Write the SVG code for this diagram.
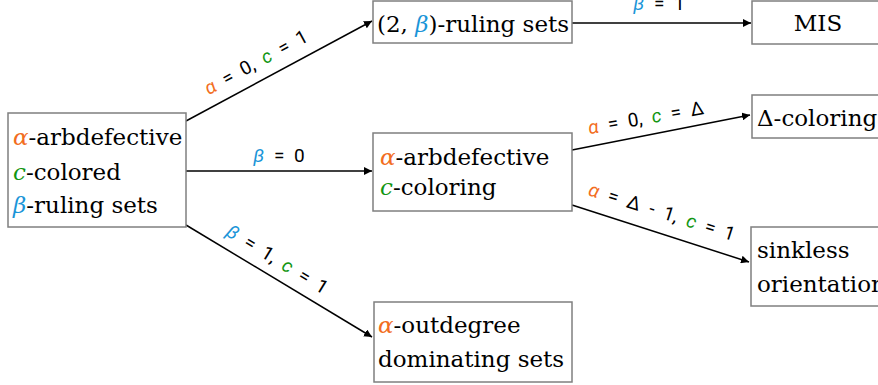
<svg xmlns="http://www.w3.org/2000/svg" width="878" height="385" viewBox="0 0 878 385">
<style>
.box{fill:#fff;stroke:#7f7f7f;stroke-width:1.5}
.nt{font-family:"DejaVu Serif",serif;font-size:23px;fill:#000}
.sym{font-style:italic}
.lb{font-family:Roboto,"DejaVu Sans",sans-serif;font-size:19px;fill:#000;word-spacing:5px}
.ls{font-style:italic}
.a{fill:#f26d21}
.c{fill:#129612}
.b{fill:#1b95d8}
.edge{stroke:#000;stroke-width:1.5;fill:none}
</style>
<defs>
<marker id="arr" viewBox="0 0 10 10" refX="10" refY="5" markerWidth="8" markerHeight="8" markerUnits="userSpaceOnUse" orient="auto"><path d="M0,0 L10,5 L0,10 Z" fill="#000"/></marker>
</defs>
<g id="connectors">
<line class="edge" marker-end="url(#arr)" x1="186" y1="121" x2="372" y2="21"/>
<line class="edge" marker-end="url(#arr)" x1="186" y1="171" x2="372" y2="171"/>
<line class="edge" marker-end="url(#arr)" x1="186" y1="225" x2="372" y2="337"/>
<line class="edge" marker-end="url(#arr)" x1="572" y1="23" x2="751" y2="23"/>
<line class="edge" marker-end="url(#arr)" x1="572" y1="150" x2="750" y2="115"/>
<line class="edge" marker-end="url(#arr)" x1="572" y1="205" x2="749" y2="262"/>
<text class="lb" transform="translate(259,68) rotate(-28.5)" text-anchor="middle"><tspan class="ls a">α</tspan> = 0, <tspan class="ls c">c</tspan> = 1</text>
<text class="lb" x="279" y="162" text-anchor="middle"><tspan class="ls b">β</tspan> = 0</text>
<text class="lb" transform="translate(274,265) rotate(31.3)" text-anchor="middle"><tspan class="ls b">β</tspan> = 1, <tspan class="ls c">c</tspan> = 1</text>
<text class="lb" x="659" y="10" text-anchor="middle"><tspan class="ls b">β</tspan> = 1</text>
<text class="lb" transform="translate(647,124) rotate(-10)" text-anchor="middle"><tspan class="ls a">α</tspan> = 0, <tspan class="ls c">c</tspan> = Δ</text>
<text class="lb" transform="translate(660,218) rotate(17.6)" text-anchor="middle"><tspan class="ls a">α</tspan> = Δ - 1, <tspan class="ls c">c</tspan> = 1</text>
</g>
<g id="n-source">
<rect class="box" x="8" y="113" width="178" height="114"/>
<text class="nt" x="13" y="145"><tspan class="sym a">α</tspan>-arbdefective</text>
<text class="nt" x="13" y="180"><tspan class="sym c">c</tspan>-colored</text>
<text class="nt" x="13" y="213"><tspan class="sym b">β</tspan>-ruling sets</text>
</g>
<g id="n-ruling">
<rect class="box" x="373" y="1" width="199" height="42"/>
<text class="nt" x="473" y="32" text-anchor="middle">(2, <tspan class="sym b">β</tspan>)-ruling sets</text>
</g>
<g id="n-mis">
<rect class="box" x="752" y="1" width="134" height="43"/>
<text class="nt" x="818" y="31" text-anchor="middle">MIS</text>
</g>
<g id="n-arbcol">
<rect class="box" x="373" y="133" width="199" height="78"/>
<text class="nt" x="380" y="165"><tspan class="sym a">α</tspan>-arbdefective</text>
<text class="nt" x="380" y="195"><tspan class="sym c">c</tspan>-coloring</text>
</g>
<g id="n-delta">
<rect class="box" x="752" y="95" width="134" height="43"/>
<text class="nt" x="757" y="126">Δ-coloring</text>
</g>
<g id="n-sinkless">
<rect class="box" x="751" y="227" width="135" height="79"/>
<text class="nt" x="757" y="258">sinkless</text>
<text class="nt" x="757" y="292">orientation</text>
</g>
<g id="n-outdeg">
<rect class="box" x="374" y="302" width="198" height="80"/>
<text class="nt" x="378" y="333"><tspan class="sym a">α</tspan>-outdegree</text>
<text class="nt" x="378" y="367">dominating sets</text>
</g>
</svg>
